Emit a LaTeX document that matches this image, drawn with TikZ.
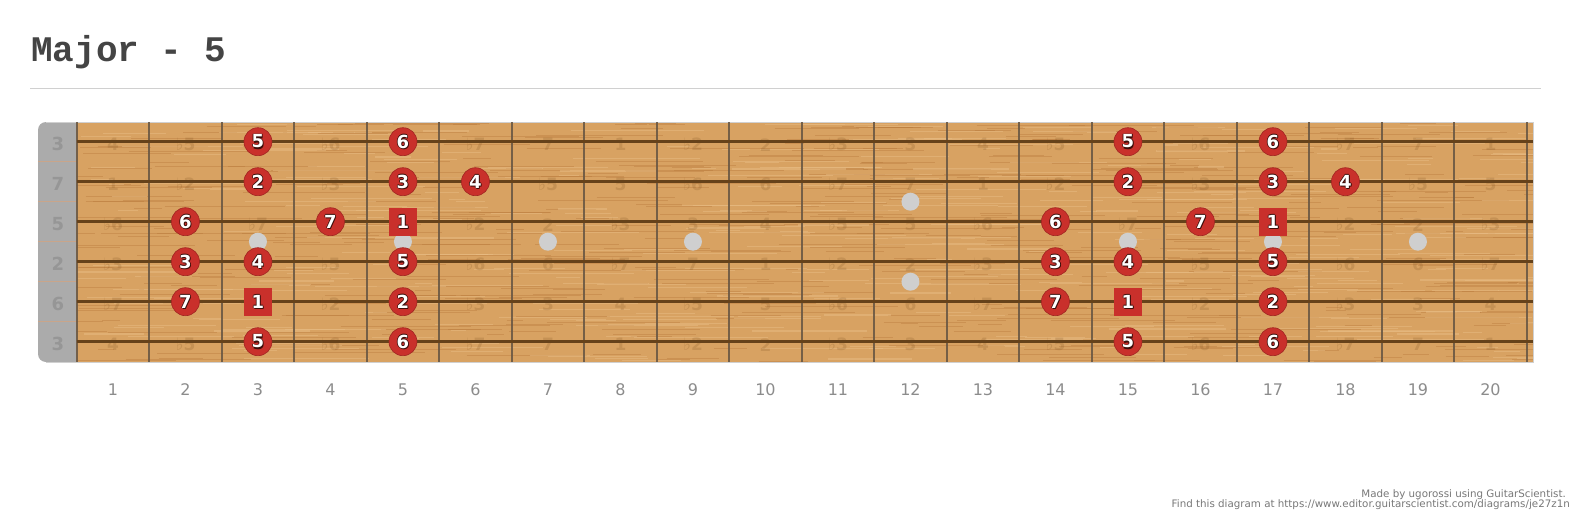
\documentclass[tikz,border=0pt]{standalone}
\usepackage{fontspec}
\setmainfont{DejaVu Sans}
\newfontfamily\titlefont{Liberation Mono}
\usepackage{tikz}
\definecolor{ink}{HTML}{444444}
\definecolor{rulegray}{HTML}{D0D0D0}
\definecolor{wood}{HTML}{D8A262}
\definecolor{woodlo}{HTML}{B8783A}
\definecolor{woodhi}{HTML}{EBC089}
\definecolor{nutgray}{HTML}{ABABAB}
\definecolor{nutink}{HTML}{969696}
\definecolor{nutsep}{HTML}{C9A58A}
\definecolor{fretc}{HTML}{6B5844}
\definecolor{stringc}{HTML}{66421A}
\definecolor{inlay}{HTML}{CFCFCF}
\definecolor{mark}{HTML}{C9302B}
\definecolor{markedge}{HTML}{3A0E0A}
\definecolor{faint}{HTML}{7A4E1E}
\definecolor{numgray}{HTML}{8C8C8C}
\definecolor{foot}{HTML}{777777}

% interval names counted from the root
\newcommand\ivl[1]{\ifcase#1\relax 1\or ♭2\or 2\or ♭3\or 3\or 4\or ♭5\or 5\or ♭6\or 6\or ♭7\or 7\fi}
% white digit with a dark rim
\newcommand\edged[1]{\rlap{\color{markedge}\kern-0.8pt#1}\rlap{\color{markedge}\kern0.8pt#1}\rlap{\color{markedge}\raisebox{0.8pt}{#1}}\rlap{\color{markedge}\raisebox{-1.2pt}{\kern0.6pt#1}}#1}

\begin{document}
\begin{tikzpicture}[
  x=1pt,y=-1pt,
  dotmark/.style={circle,fill=mark,draw=mark!80!black,line width=0.6,minimum size=28,inner sep=0,text=white,font=\fontsize{18}{20}\selectfont\bfseries},
  rootmark/.style={rectangle,fill=mark,minimum size=28,inner sep=0,text=white,font=\fontsize{18}{20}\selectfont\bfseries},
  faintnote/.style={inner sep=0,text=faint,text opacity=0.2,font=\fontsize{17}{20}\selectfont\bfseries},
  openlbl/.style={inner sep=0,text=nutink,font=\fontsize{18}{20}\selectfont\bfseries},
  fretnum/.style={anchor=base,inner sep=0,text=numgray,font=\fontsize{16}{18}\selectfont},
  footnote/.style={anchor=base east,inner sep=0,text=foot,font=\fontsize{10.3}{11}\selectfont},
  fret/.style={fretc,line width=2,opacity=0.9},
  string/.style={stringc,line width=3},
  grainlo/.style={woodlo,line width=0.9,opacity=0.4},
  grainhi/.style={woodhi,line width=1.1,opacity=0.45}
]
\useasboundingbox (0,0) rectangle (1573,519);

% title
\node[anchor=base west,inner sep=0,text=ink,font=\titlefont\bfseries\fontsize{36}{40}\selectfont] (title) at (31,62) {Major - 5};
\draw[rulegray,line width=1] (30,88) -- (1541,88);

% board
\fill[nutgray,rounded corners=8] (38,122) rectangle (96,362);
\fill[wood] (76.7,122) rectangle (1533,362);
\begin{scope}
  \clip (76.7,122) rectangle (1533,362);
  \pgfmathsetseed{11}
  \foreach \i in {1,...,520}{
    \pgfmathsetmacro\gx{50+rnd*1480}
    \pgfmathsetmacro\gy{122+rnd*240}
    \pgfmathsetmacro\gl{15+rnd*120}
    \draw[grainlo] (\gx,\gy) -- ++(\gl,0);
  }
  \foreach \i in {1,...,400}{
    \pgfmathsetmacro\gx{50+rnd*1480}
    \pgfmathsetmacro\gy{122+rnd*240}
    \pgfmathsetmacro\gl{15+rnd*120}
    \draw[grainhi] (\gx,\gy) -- ++(\gl,0);
  }
\end{scope}
\draw[rulegray,line width=1] (46,122) -- (1533,122) -- (1533,362) -- (46,362);

% nut
\foreach \s in {1,...,5}
  \draw[nutsep,line width=0.8] (38,{161.7+40*(\s-1)}) -- (76.7,{161.7+40*(\s-1)});
\foreach \s/\l in {1/3,2/7,3/5,4/2,5/6,6/3}
  \node[openlbl] (o-\s) at (58,{143.7+40*(\s-1)}) {\l};

% interval names, left out where a marker sits
\foreach \s/\open in {1/4,2/11,3/7,4/2,5/9,6/4}
  \foreach \f in {1,...,20}{
    \pgfmathtruncatemacro\n{mod(\open+\f,12)}
    \pgfmathtruncatemacro\fm{mod(\f,12)}
    \pgfmathtruncatemacro\hit{{1,0,1,0,1,1,0,1,0,1,0,1}[\n]*(\fm>1)*(\fm<7)}
    \ifnum\hit=0
      \node[faintnote] (n-\s-\f) at ({40.45+72.5*\f},{144.7+40*(\s-1)}) {\ivl{\n}};
    \fi
  }

% frets and strings
\foreach \k in {0,...,20}
  \draw[fret] ({76.7+72.5*\k},122) -- ({76.7+72.5*\k},362);
\foreach \s in {1,...,6}
  \draw[string] (76.7,{141.7+40*(\s-1)}) -- (1533,{141.7+40*(\s-1)});

% inlays
\foreach \f in {3,5,7,9,15,17,19}
  \fill[inlay] ({40.45+72.5*\f},241.7) circle (9);
\fill[inlay] ({40.45+72.5*12},201.7) circle (9);
\fill[inlay] ({40.45+72.5*12},281.7) circle (9);

% scale notes, same shape twelve frets up
\foreach \o in {0,12}{
  \foreach \s/\f/\d [evaluate=\f as \ff using int(\f+\o)] in
    {1/3/5,1/5/6,2/3/2,2/5/3,2/6/4,3/2/6,3/4/7,4/2/3,4/3/4,4/5/5,5/2/7,5/5/2,6/3/5,6/5/6}
    \node[dotmark] (m-\s-\ff) at ({40.45+72.5*\ff},{141.7+40*(\s-1)}) {\edged{\d}};
  \foreach \s/\f [evaluate=\f as \ff using int(\f+\o)] in {3/5,5/3}
    \node[rootmark] (m-\s-\ff) at ({40.45+72.5*\ff},{141.7+40*(\s-1)}) {\edged{1}};
}

% fret numbers
\foreach \f in {1,...,20}
  \node[fretnum] (fn-\f) at ({40.45+72.5*\f},395) {\f};

% footer
\node[footnote] (made) at (1566,497) {Made by ugorossi using GuitarScientist.};
\node[footnote] (find) at (1570,507) {Find this diagram at https://www.editor.guitarscientist.com/diagrams/je27z1n};
\end{tikzpicture}
\end{document}
